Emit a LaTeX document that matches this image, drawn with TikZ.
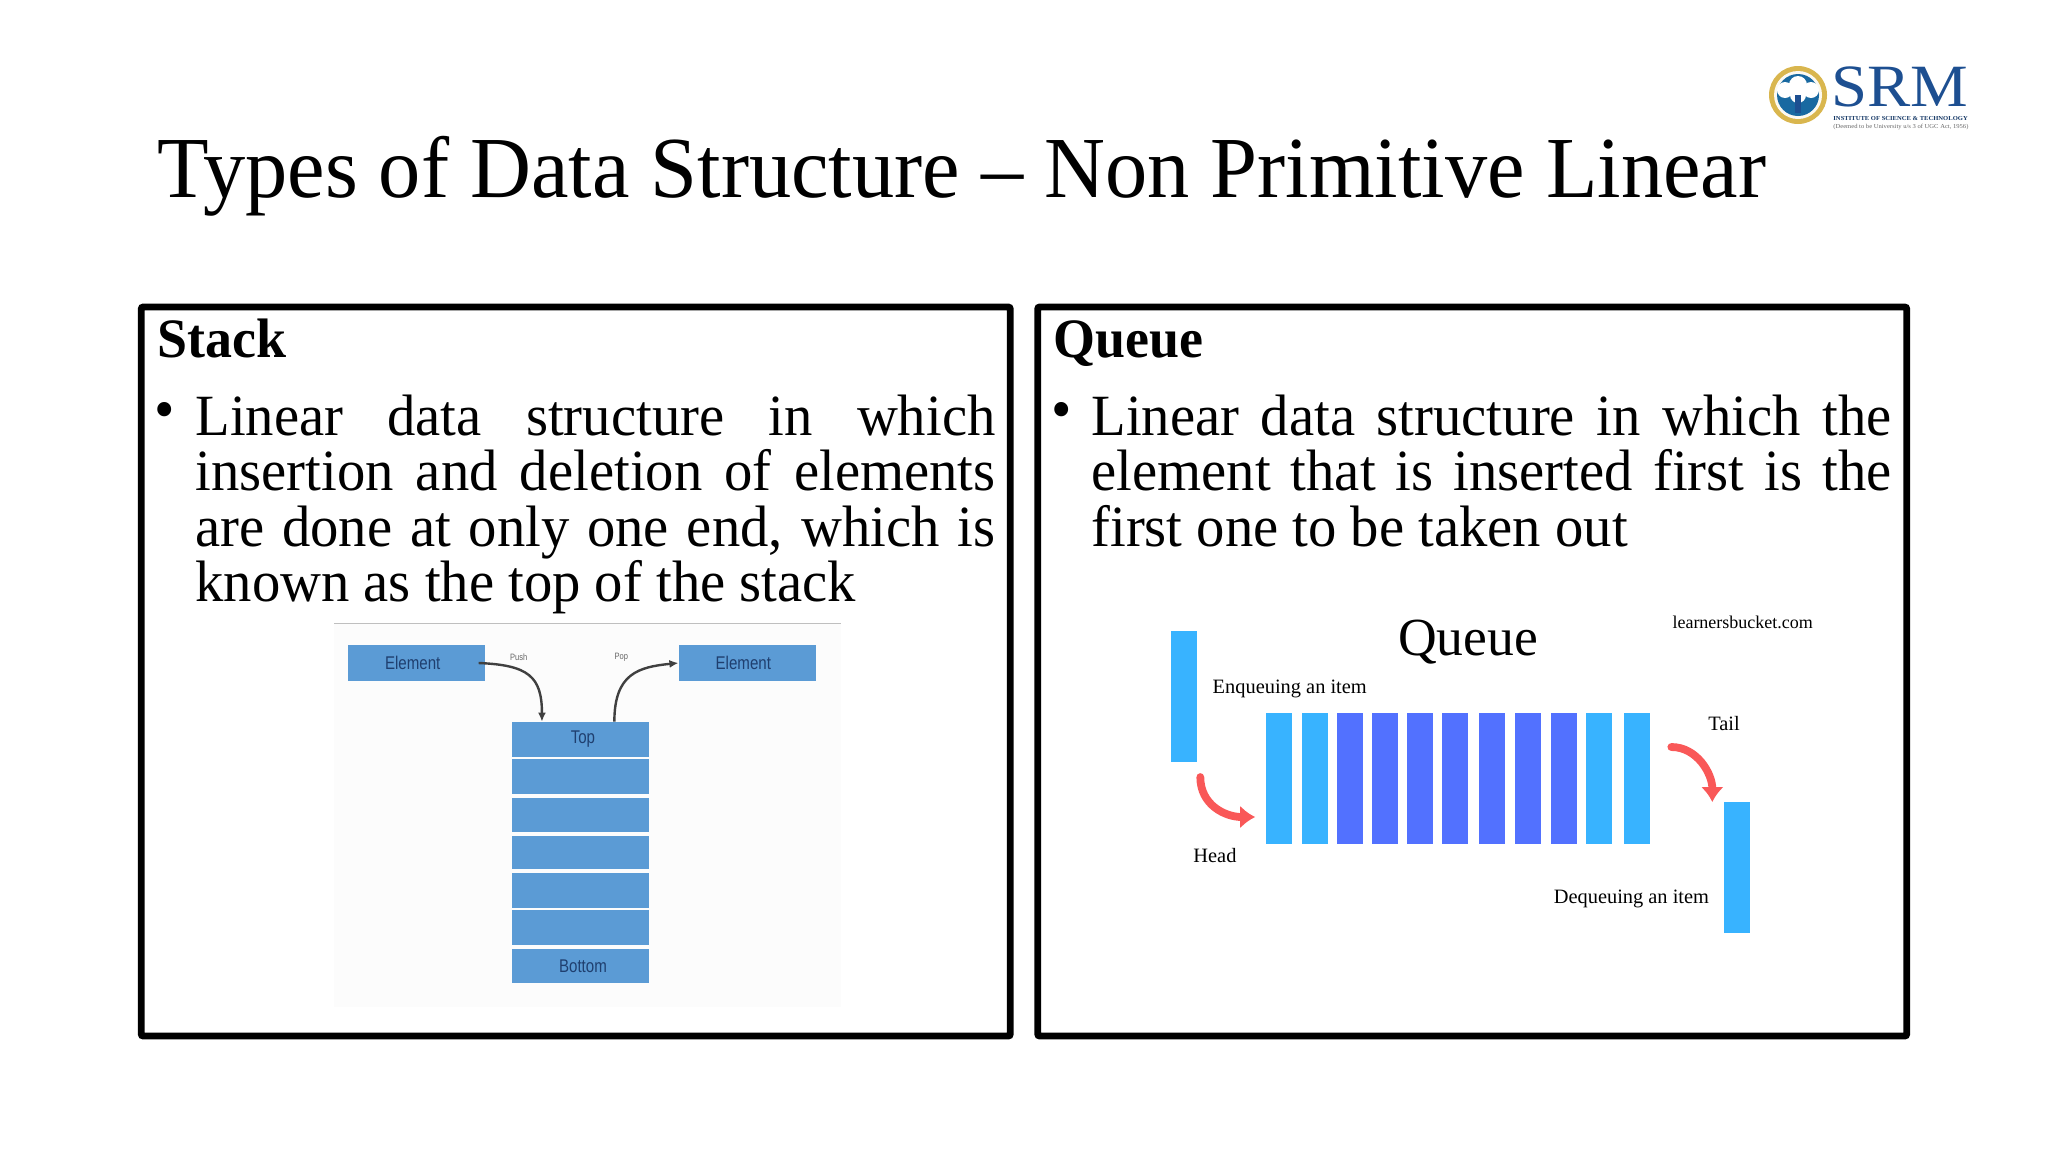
\documentclass[tikz,border=0pt]{standalone}
\usepackage{fontspec}
\usepackage{tikz}
\usetikzlibrary{arrows.meta}
\setmainfont[FakeStretch=.97]{Liberation Serif}
\newfontfamily\picfont[FakeStretch=.82]{Liberation Sans}
\newfontfamily\qfont{Liberation Serif}
\newfontfamily\logofont[FakeStretch=1.08]{Liberation Serif}
\definecolor{stackblue}{HTML}{5B9BD5}
\definecolor{stackink}{HTML}{1F3F6F}
\definecolor{queuelight}{HTML}{38B3FF}
\definecolor{queuedark}{HTML}{5271FF}
\definecolor{queuered}{HTML}{F95858}
\definecolor{logoblue}{HTML}{1D4F91}
\definecolor{logogold}{HTML}{D9B64E}
\tikzset{
	panelbox/.style={draw=black, line width=3.4pt, rounded corners=1pt, inner sep=0, outer sep=0, minimum width=434.5pt, minimum height=364.5pt},
	heading/.style={anchor=base west, inner sep=0, font=\fontsize{27.8}{30}\selectfont\bfseries},
	bulletdot/.style={inner sep=0, font=\fontsize{30}{28}\selectfont},
	bodytext/.style={anchor=north west, inner sep=0, text width=400pt, align=justify, font=\fontsize{29.2}{27.65}\selectfont},
	stackcell/.style={fill=stackblue, inner sep=0, text=stackink, font=\picfont\fontsize{9.2}{10}\selectfont},
	tinylabel/.style={inner sep=0, text=black!60, font=\picfont\fontsize{4.6}{5}\selectfont},
	stackarrow/.style={black!75, line width=1.2pt, -{Latex[length=4.5pt, width=4pt]}},
	queuebar/.style={inner sep=0, minimum width=13pt, minimum height=65.5pt},
	queuelabel/.style={anchor=base west, inner sep=0, font=\qfont\fontsize{10.2}{11}\selectfont},
	queuearrow/.style={queuered, line width=3.9pt, line cap=round, -{Latex[length=7.5pt, width=11.5pt]}}
}
\begin{document}
\begin{tikzpicture}[x=0.5pt, y=-0.5pt]
	\useasboundingbox (0, 0) rectangle (2048, 1152);
	% title and logo
	\node [anchor=base west, inner sep=0, font=\fontsize{43.5}{48}\selectfont] (title) at (157, 197) {Types of Data Structure -- Non Primitive Linear};
	\fill [logogold] (1798, 95) circle (29);
	\fill [white!92!logogold] (1798, 95) circle (24);
	\fill [logoblue!85!cyan] (1798, 95) circle (21);
	\fill [white] (1785, 90) circle (8) (1798, 85) circle (9) (1811, 90) circle (8) (1798, 95) circle (8);
	\fill [logoblue] (1795, 95) rectangle (1801, 113);
	\node [anchor=base west, inner sep=0, text=logoblue, font=\logofont\fontsize{30}{31}\selectfont] (srm) at (1831, 106) {SRM};
	\node [anchor=base west, inner sep=0, text=logoblue!70!black, font=\logofont\bfseries\fontsize{3.05}{4}\selectfont] (srmline) at (1833, 120) {INSTITUTE OF SCIENCE \& TECHNOLOGY};
	\node [anchor=base west, inner sep=0, text=black!60, font=\logofont\fontsize{3.05}{4}\selectfont] (srmnote) at (1833, 128) {(Deemed to be University u/s 3 of UGC Act, 1956)};
	% the two panels
	\node [panelbox] (stackbox) at (575.75, 671.5) {};
	\node [panelbox] (queuebox) at (1472.2, 671.5) {};
	\node [heading] (stackhead) at (157, 357) {Stack};
	\node [heading] (queuehead) at (1053, 357) {Queue};
	\node [bulletdot] (stackdot) at (165, 416) {\textbullet};
	\node [bulletdot] (queuedot) at (1062, 416) {\textbullet};
	\node [bodytext] (stacktext) at (195, 394.5) {Linear data structure in which\linebreak insertion and deletion of elements\linebreak are done at only one end, which is\linebreak known as the top of the stack};
	\node [bodytext] (queuetext) at (1091, 394.5) {Linear data structure in which the\linebreak element that is inserted first is the\linebreak first one to be taken out};
	% stack picture
	\fill [black!1] (334, 623) rectangle (841, 1007);
	\draw [black!25, line width=0.5pt] (334, 623) -- (841, 623);
	\node [stackcell, minimum width=68.5pt, minimum height=18pt] (elemin) at (416.7, 663) {Element\hspace*{4pt}};
	\node [stackcell, minimum width=68.5pt, minimum height=18pt] (elemout) at (747.3, 663) {Element\hspace*{4pt}};
	\foreach \name/\ytop/\ybot/\word in {top/722/757/Top, rowa/759/794/, rowb/798/832/, rowc/836/869/, rowd/873/908/, rowe/910/945/, bottom/949/983/Bottom}
		\node [stackcell, minimum width=68.5pt, minimum height={(\ybot-\ytop)/2*1pt}] (\name) at (580.35, {(\ytop+\ybot)/2}) {\hspace*{2.6pt}\word};
	\node [tinylabel] (pushlabel) at (518.7, 657) {Push};
	\node [tinylabel] (poplabel) at (621.3, 657) {Pop};
	\draw [stackarrow] ([xshift=-3.5pt]elemin.east) .. controls +(50, 2) and +(0, -45) .. ([xshift=-19.2pt]top.north);
	\draw [stackarrow] ([xshift=17pt]top.north) .. controls +(0, -48) and +(-40, 4) .. (elemout.west);
	% queue picture
	\node [inner sep=0, font=\qfont\fontsize{26.8}{28}\selectfont] (queuetitle) at (1468, 642.5) {Queue};
	\node [inner sep=0, font=\qfont\fontsize{9}{10}\selectfont] (bucket) at (1742.7, 622) {learnersbucket.com};
	\node [queuebar, fill=queuelight] (enqbar) at (1183.5, 696.5) {};
	\node [queuebar, fill=queuelight] (deqbar) at (1736.6, 867.5) {};
	\foreach \i/\xpos/\barcolor in {1/1278.9/queuelight, 2/1315/queuelight, 3/1350/queuedark, 4/1385/queuedark, 5/1420.2/queuedark, 6/1455.4/queuedark, 7/1492.3/queuedark, 8/1528/queuedark, 9/1563.5/queuedark, 10/1599.4/queuelight, 11/1636.5/queuelight}
		\node [queuebar, fill=\barcolor] (bar\i) at (\xpos, 778.5) {};
	\node [queuelabel] (enqlabel) at (1212.3, 693) {Enqueuing an item};
	\node [queuelabel] (headlabel) at (1193, 862) {Head};
	\node [queuelabel] (taillabel) at (1707.9, 730) {Tail};
	\node [queuelabel] (deqlabel) at (1553.4, 903) {Dequeuing an item};
	\coordinate (headfrom) at (1200.3, 777);
	\coordinate (headto) at (1255.2, 817);
	\coordinate (tailfrom) at (1671.3, 747);
	\coordinate (tailto) at (1712.3, 802);
	\draw [queuearrow] (headfrom) .. controls +(0, 28) and +(-30, 0) .. (headto);
	\draw [queuearrow] (tailfrom) .. controls +(26, 0) and +(0, -28) .. (tailto);
\end{tikzpicture}
\end{document}
